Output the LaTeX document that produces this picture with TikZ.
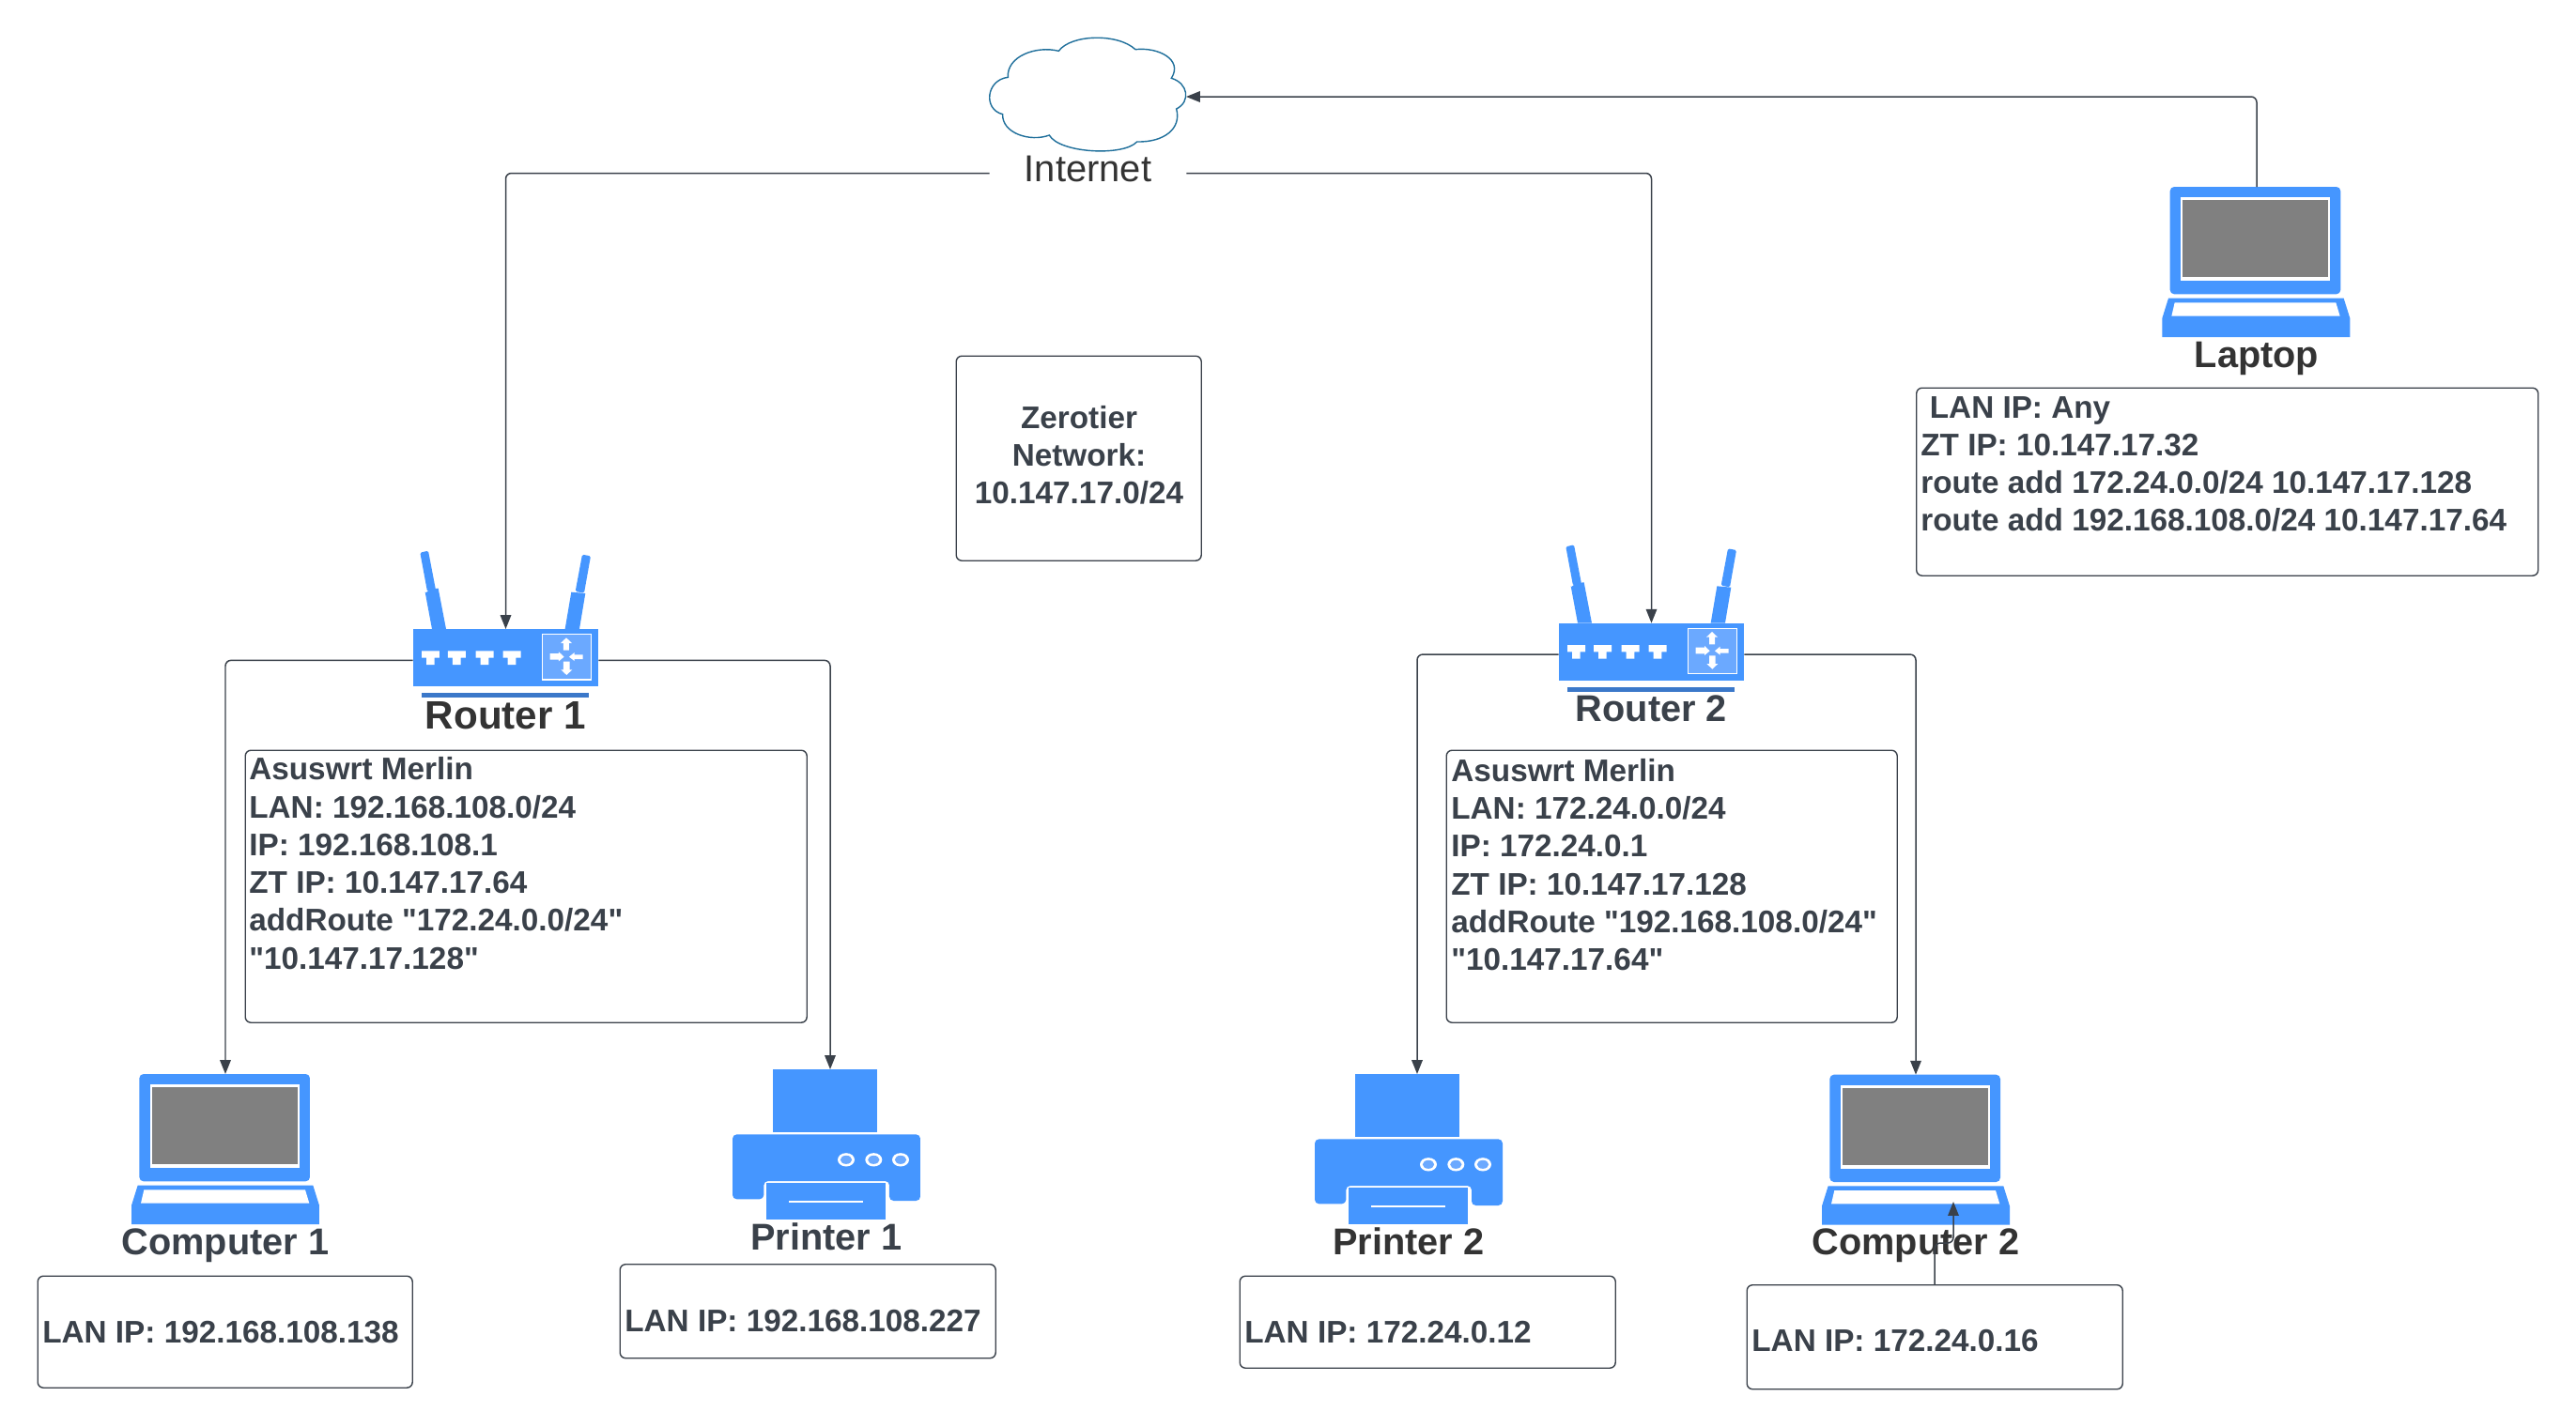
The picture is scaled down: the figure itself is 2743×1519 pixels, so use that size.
\documentclass[tikz,border=0pt]{standalone}
\usepackage{fontspec}
\setmainfont{Liberation Sans}
\usetikzlibrary{arrows.meta}
\definecolor{iconblue}{HTML}{4596FF}
\definecolor{iconlight}{HTML}{6BA9FF}
\definecolor{icondark}{HTML}{3B78C9}
\definecolor{ink}{HTML}{3A414A}
\definecolor{inkb}{HTML}{333333}
\definecolor{cloudline}{HTML}{1F6F9B}
\definecolor{screen}{HTML}{808080}
\newcommand{\pxu}{0.02cm}
\font\qfont="Liberation Sans/B" at 18.95pt
\newcommand{\qq}{{\qfont\char34 }}
\tikzset{
  zoomed/.style={x=0.0066667cm,y=-0.0066667cm},
  infobox/.style={draw=ink,line width=0.8pt,rounded corners=0.12cm,inner sep=0pt,fill=white},
  infotext/.style={anchor=north west,inner sep=0pt,align=left,text=ink,font=\fontsize{18.95}{22.9}\selectfont\bfseries},
  centertext/.style={anchor=center,inner sep=0pt,align=center,text=ink,font=\fontsize{18.95}{22.9}\selectfont\bfseries},
  iconlabel/.style={anchor=base,inner sep=0pt,font=\fontsize{22.6}{27}\selectfont\bfseries},
  iconbox/.style={inner sep=0pt,anchor=north},
  conn/.style={draw=ink,line width=0.85pt,rounded corners=0.12cm},
  arrowed/.style={-{Triangle[length=8.5pt,width=6.6pt]}},
}
\newcommand{\iconrouter}[2]{%
\begin{scope}[shift={(#1,#2)},zoomed]
  \fill[iconblue] (240,330) -- (218,212) to[out=-80,in=180] (238,202) -- (260,200) -- (285,330) -- cycle;
  \fill[iconblue,rounded corners=0.03cm] (202,86) -- (228,80) -- (252,205) -- (225,210) -- cycle;
  \fill[iconblue] (665,330) -- (685,212) -- (730,216) -- (711,330) -- cycle;
  \fill[iconblue,rounded corners=0.03cm] (720,92) -- (747,97) -- (726,215) -- (698,210) -- cycle;
  \fill[iconblue] (180,330) rectangle (770,513);
  \fill[icondark] (208,534) rectangle (742,549);
  \foreach \dx in {0,84,173,260}{
    \fill[white,shift={(\dx,0)}] (207,400) -- (264,400) -- (264,422) -- (248,422) -- (248,444) -- (222,444) -- (222,422) -- (207,422) -- cycle;
  }
  \filldraw[fill=iconlight,draw=white,line width=0.9pt] (593,347) rectangle (749,492);
  \fill[white] (669,358) -- (687,375) -- (678,375) -- (678,398) -- (660,398) -- (660,375) -- (651,375) -- cycle;
  \fill[white] (670,477) -- (688,460) -- (680,460) -- (680,434) -- (660,434) -- (660,460) -- (652,460) -- cycle;
  \fill[white] (678,419) -- (695,405) -- (695,412) -- (722,412) -- (722,426) -- (695,426) -- (695,432) -- cycle;
  \fill[white] (662,419) -- (645,403) -- (645,408) -- (617,408) -- (617,428) -- (645,428) -- (645,433) -- cycle;
\end{scope}}
\newcommand{\iconlaptop}[2]{%
\begin{scope}[shift={(#1,#2)},zoomed]
  \fill[iconblue,rounded corners=0.09cm] (85,42) rectangle (630,385);
  \fill[white] (120,75) rectangle (597,342);
  \fill[screen] (126,85) rectangle (590,330);
  \fill[iconblue] (80,398) -- (640,398) -- (660,462) -- (660,522) -- (60,522) -- (60,462) -- cycle;
  \fill[white] (100,412) -- (615,412) -- (628,455) -- (90,455) -- cycle;
\end{scope}}
\newcommand{\iconprinter}[2]{%
\begin{scope}[shift={(#1,#2)},zoomed]
  \fill[iconblue] (189,27) rectangle (522,228);
  \fill[iconblue,rounded corners=0.09cm] (60,442) -- (60,235) -- (660,235) -- (660,447) -- (561,447) -- (561,384) -- (160,384) -- (160,442) -- cycle;
  \fill[iconblue] (168,391) rectangle (550,507);
  \draw[white,line width=0.8pt] (241,450) -- (477,450);
  \foreach \cx in {423,511,597}{
    \fill[white] (\cx,316) ellipse [x radius=27,y radius=21.5];
    \fill[iconlight] (\cx,316) ellipse [x radius=18.5,y radius=13.5];
  }
\end{scope}}
\begin{document}
\begin{tikzpicture}[x=\pxu,y=-\pxu]
\useasboundingbox (0,0) rectangle (2743,1519);
\fill[white] (0,0) rectangle (2743,1519);

% cloud
\begin{scope}[shift={(1000,20)},zoomed]
  \filldraw[fill=white,draw=cloudline,line width=0.8pt]
    (220,187) .. controls (215,120) and (310,85) .. (382,103)
    .. controls (420,50) and (570,45) .. (627,98)
    .. controls (700,90) and (780,130) .. (742,190)
    .. controls (795,205) and (805,265) .. (758,288)
    .. controls (775,350) and (720,395) .. (632,393)
    .. controls (590,440) and (385,430) .. (352,372)
    .. controls (290,395) and (200,365) .. (203,305)
    .. controls (140,290) and (150,195) .. (220,187) -- cycle;
\end{scope}
\coordinate (cloudport) at (1263,103);

% icons
\iconrouter{380}{560}
\iconrouter{1600}{553.67}
\iconlaptop{120}{1130}
\iconlaptop{1920}{1130.67}
\iconlaptop{2282.33}{185}
\iconprinter{760}{1130}
\iconprinter{1380}{1135}

% anchor nodes for the icons
\node[iconbox,minimum width=197*\pxu,minimum height=66*\pxu] (router1) at (538.5,670) {};
\node[iconbox,minimum width=197*\pxu,minimum height=66*\pxu] (router2) at (1758.5,663.7) {};
\node[iconbox,minimum width=182*\pxu,minimum height=160*\pxu] (computer1) at (240,1144) {};
\node[iconbox,minimum width=182*\pxu,minimum height=160*\pxu] (computer2) at (2040,1144.7) {};
\node[iconbox,minimum width=182*\pxu,minimum height=160*\pxu] (laptop) at (2403,199) {};
\node[iconbox,minimum width=200*\pxu,minimum height=160*\pxu] (printer1) at (884,1139) {};
\node[iconbox,minimum width=200*\pxu,minimum height=160*\pxu] (printer2) at (1509,1144) {};
\coordinate (computer2in) at (2080,1280);

% labels
\node[anchor=base,inner sep=0pt,text=inkb,minimum width=209*\pxu,text height=27*\pxu,text depth=10*\pxu,font=\fontsize{22.7}{27}\selectfont] (internet) at (1158.5,193) {Internet};
\node[iconlabel,text=inkb,font=\fontsize{24}{30}\selectfont\bfseries] (router1label) at (538.5,776.5) {Router 1};
\node[iconlabel,text=ink] (router2label) at (1758.5,768) {Router 2};
\node[iconlabel,text=ink] (computer1label) at (240,1336) {Computer 1};
\node[iconlabel,text=inkb] (computer2label) at (2040,1336) {Computer 2};
\node[iconlabel,text=ink] (printer1label) at (880,1331) {Printer 1};
\node[iconlabel,text=inkb] (printer2label) at (1500,1336) {Printer 2};
\node[iconlabel,text=inkb] (laptoplabel) at (2403,391) {Laptop};

% info boxes
\node[infobox,anchor=north west,minimum width=261*\pxu,minimum height=218*\pxu] (ztbox) at (1017.5,378.5) {};
\node[centertext] (zttext) at (1149,485) {Zerotier\\Network:\\10.147.17.0/24};
\node[infobox,anchor=north west,minimum width=598*\pxu,minimum height=290*\pxu] (r1box) at (260.5,798.5) {};
\node[infotext] (r1text) at (265,806.5) {Asuswrt Merlin\\LAN: 192.168.108.0/24\\IP: 192.168.108.1\\ZT IP: 10.147.17.64\\addRoute \qq172.24.0.0/24\qq\\\qq10.147.17.128\qq};
\node[infobox,anchor=north west,minimum width=480*\pxu,minimum height=290*\pxu] (r2box) at (1539.5,798.5) {};
\node[infotext] (r2text) at (1545,808) {Asuswrt Merlin\\LAN: 172.24.0.0/24\\IP: 172.24.0.1\\ZT IP: 10.147.17.128\\addRoute \qq192.168.108.0/24\qq\\\qq10.147.17.64\qq};
\node[infobox,anchor=north west,minimum width=662*\pxu,minimum height=200*\pxu] (lapbox) at (2040,412.5) {};
\node[infotext] (laptext) at (2045,422) {\hspace*{0.19cm}LAN IP: Any\\ZT IP: 10.147.17.32\\route add 172.24.0.0/24 10.147.17.128\\route add 192.168.108.0/24 10.147.17.64};
\node[infobox,anchor=north west,minimum width=399*\pxu,minimum height=119*\pxu] (c1box) at (39.5,1358.5) {};
\node[infotext] (c1text) at (45,1407) {LAN IP: 192.168.108.138};
\node[infobox,anchor=north west,minimum width=400*\pxu,minimum height=100*\pxu] (p1box) at (659.5,1346) {};
\node[infotext] (p1text) at (665,1395) {LAN IP: 192.168.108.227};
\node[infobox,anchor=north west,minimum width=400*\pxu,minimum height=98*\pxu] (p2box) at (1319.5,1358.5) {};
\node[infotext] (p2text) at (1325,1407) {LAN IP: 172.24.0.12};
\node[infobox,anchor=north west,minimum width=400*\pxu,minimum height=111*\pxu] (c2box) at (1859.5,1368) {};
\node[infotext] (c2text) at (1865,1416) {LAN IP: 172.24.0.16};

% connectors
\draw[conn,arrowed] (internet.west) -| (router1.north);
\draw[conn,arrowed] (internet.east) -| (router2.north);
\draw[conn,arrowed] (laptop.north) |- (cloudport);
\draw[conn,arrowed] (router1.west) -| (computer1.north);
\draw[conn,arrowed] (router1.east) -| (printer1.north);
\draw[conn,arrowed] (router2.west) -| (printer2.north);
\draw[conn,arrowed] (router2.east) -| (computer2.north);
\draw[conn,arrowed] (c2box.north) |- (2080,1324) -- (computer2in);
\end{tikzpicture}
\end{document}
